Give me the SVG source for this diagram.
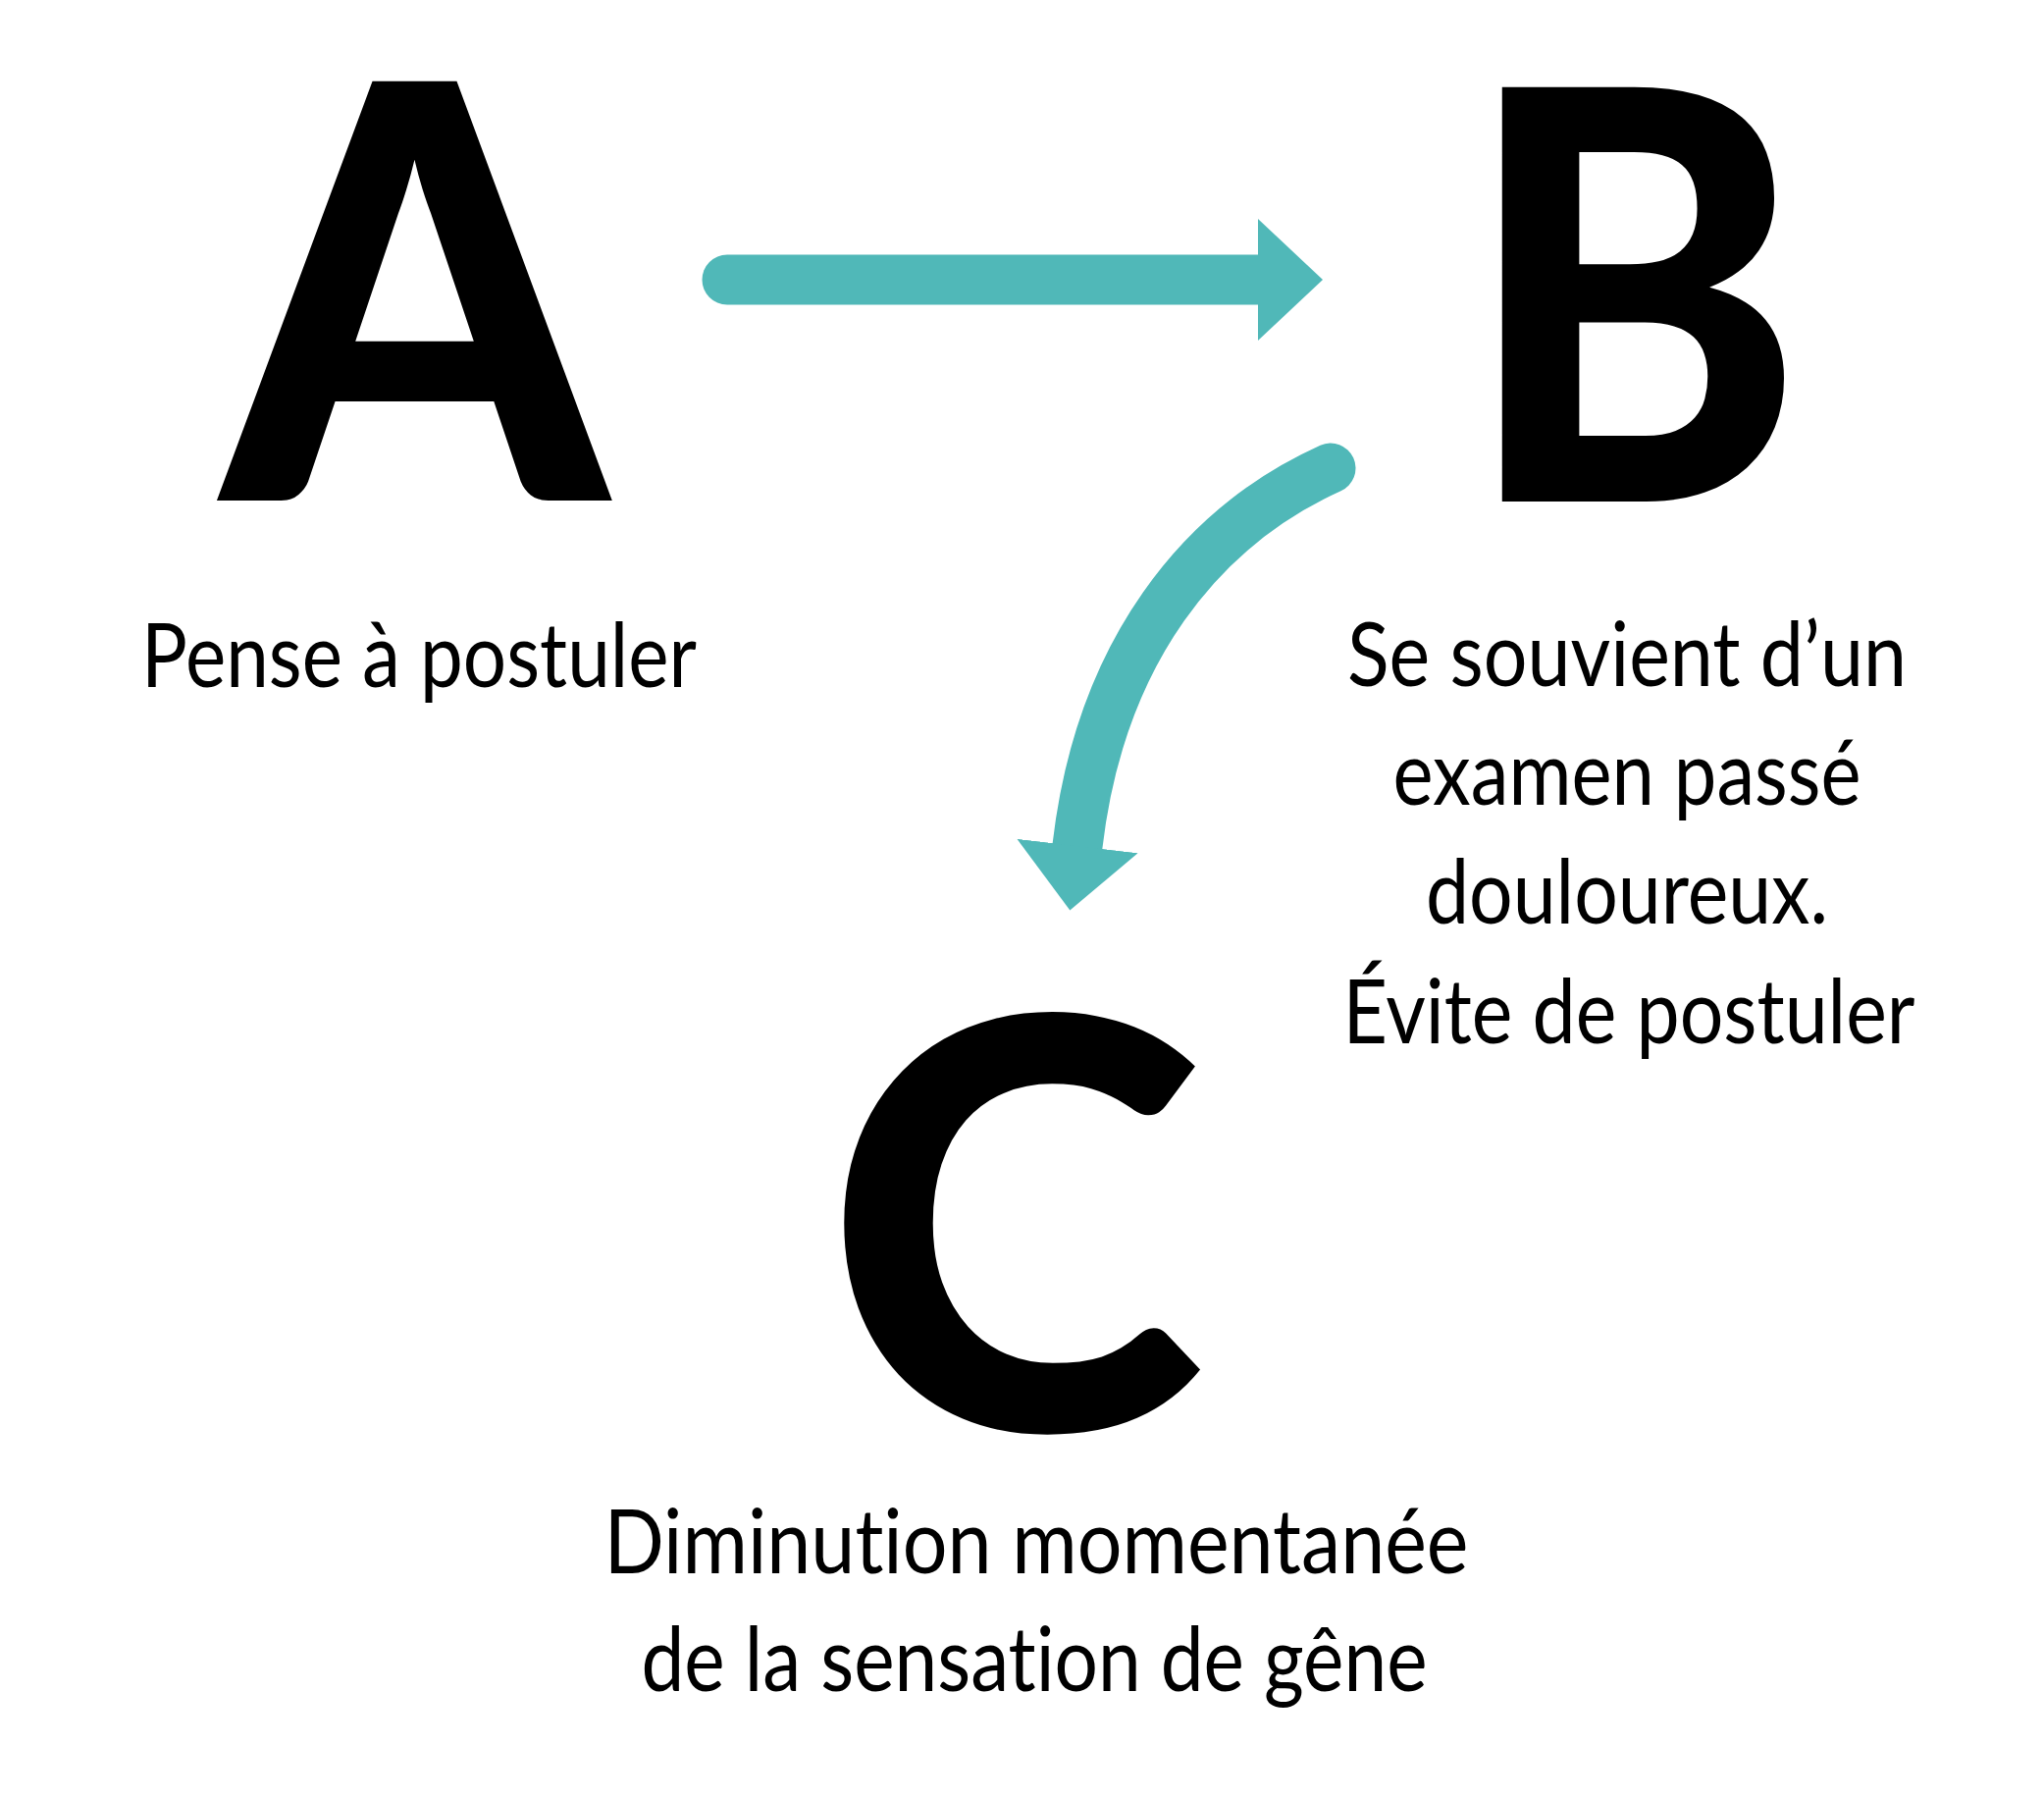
<svg xmlns="http://www.w3.org/2000/svg" width="2083" height="1832" viewBox="0 0 2083 1832">
<style>
.big{font-family:Lato,"Liberation Sans",sans-serif;font-weight:900;font-size:589px;fill:#000}
.lbl{font-family:Lato,"Liberation Sans",sans-serif;font-weight:400;font-size:91px;fill:#000;font-variant-ligatures:none;font-feature-settings:"liga" 0,"clig" 0}
.conn{fill:none;stroke:#50B8B8;stroke-width:51;stroke-linecap:round}
</style>
<defs>
<marker id="head" markerUnits="userSpaceOnUse" viewBox="0 0 66 124" refX="0" refY="62" markerWidth="66" markerHeight="124" orient="auto">
<path d="M0,0 L66,62 L0,124 Z" fill="#50B8B8"/>
</marker>
</defs>
<rect width="2083" height="1832" fill="#fff"/>
<g id="connectors">
<path class="conn" d="M741,285 L1282,285" marker-end="url(#head)"/>
<path class="conn" d="M1356,477 C1223,537 1121,665 1098,862" marker-end="url(#head)"/>
</g>
<g id="nodeA">
<text class="big" transform="translate(226,510) scale(0.95,1)" x="0" y="0">A</text>
<text class="lbl" x="427" y="700" text-anchor="middle" textLength="566" lengthAdjust="spacingAndGlyphs">Pense à postuler</text>
</g>
<g id="nodeB">
<text class="big" transform="translate(1491,511) scale(0.889,0.988)" x="0" y="0">B</text>
<text class="lbl" x="1658" y="699" text-anchor="middle" textLength="570" lengthAdjust="spacingAndGlyphs">Se souvient d’un</text>
<text class="lbl" x="1658" y="820" text-anchor="middle" textLength="477" lengthAdjust="spacingAndGlyphs">examen passé</text>
<text class="lbl" x="1658" y="941" text-anchor="middle" textLength="410" lengthAdjust="spacingAndGlyphs">douloureux.</text>
<text class="lbl" x="1660" y="1063" text-anchor="middle" textLength="583" lengthAdjust="spacingAndGlyphs">Évite de postuler</text>
</g>
<g id="nodeC">
<text class="big" transform="translate(840,1457) scale(1,0.986)" x="0" y="0">C</text>
<text class="lbl" x="1056" y="1603" text-anchor="middle" textLength="881" lengthAdjust="spacingAndGlyphs">Diminution momentanée</text>
<text class="lbl" x="1054" y="1723" text-anchor="middle" textLength="801" lengthAdjust="spacingAndGlyphs">de la sensation de gêne</text>
</g>
</svg>
